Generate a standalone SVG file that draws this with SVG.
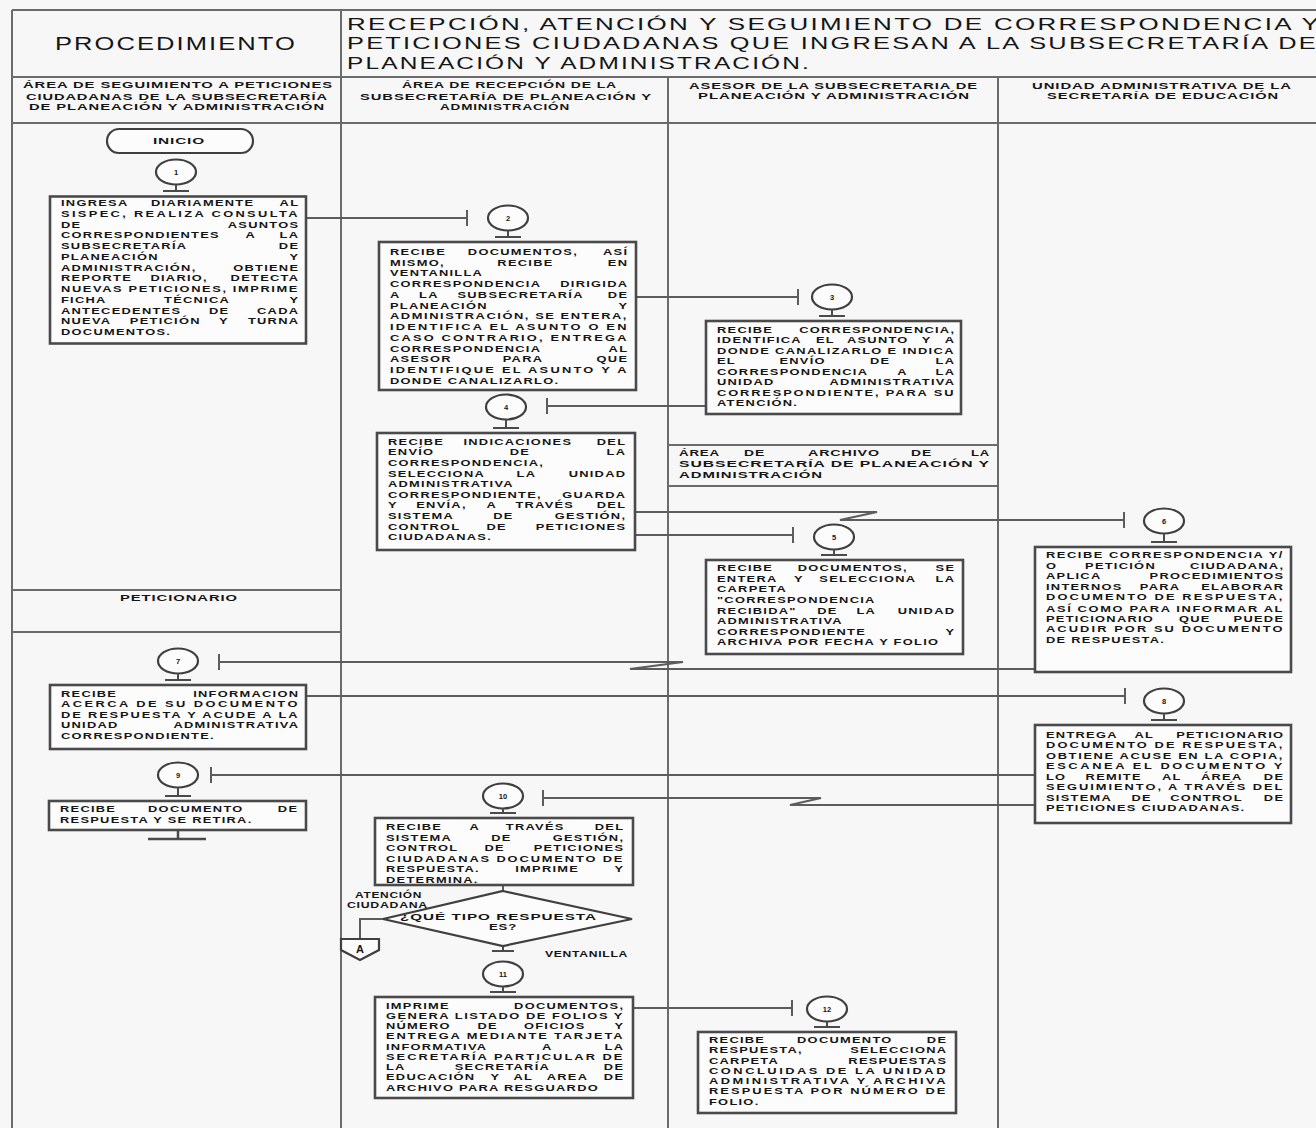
<svg xmlns="http://www.w3.org/2000/svg" width="1316" height="1128" viewBox="0 0 1316 1128">
<style>
.frame{fill:none;stroke:#6b6b6b;stroke-width:2}
.box{fill:#fcfcfc;stroke:#4a4a4a;stroke-width:2.6}
.cir{fill:#fcfcfc;stroke:#3f3f3f;stroke-width:2.2}
.stem{fill:none;stroke:#4a4a4a;stroke-width:2}
.con{fill:none;stroke:#5c5c5c;stroke-width:2}
text{font-family:"Liberation Sans",Arial,Helvetica,sans-serif;fill:#151515}
.bt text{font-size:9.2px;font-weight:bold;letter-spacing:0.9px}
.e{text-anchor:end}
.h{font-size:9.5px;font-weight:bold;letter-spacing:0.6px}
.t{font-size:17px;letter-spacing:1.5px}
.num{font-size:7.5px;font-weight:bold;text-anchor:middle}
.lbl{font-size:8.5px;font-weight:bold;letter-spacing:0.5px}
</style>
<rect x="0" y="0" width="1316" height="1128" fill="#f7f7f7"/>
<g id="frame">
<path class="frame" d="M12,10 H1316 M12,10 V1128 M341,10 V1128 M12,77 H1316 M12,123 H1316 M668,77 V1128 M998,77 V1128"/>
<rect class="frame" x="668" y="445" width="330" height="41" fill="#f9f9f9"/>
<rect class="frame" x="12" y="590" width="329" height="42" fill="#f9f9f9"/>
</g>
<g id="header">
<text class="t" x="55" y="50" textLength="242" lengthAdjust="spacingAndGlyphs" style="font-size:18.5px">PROCEDIMIENTO</text>
<text class="t" x="347" y="29.5" textLength="974" lengthAdjust="spacingAndGlyphs">RECEPCIÓN, ATENCIÓN Y SEGUIMIENTO DE CORRESPONDENCIA Y</text>
<text class="t" x="347" y="49" textLength="971" lengthAdjust="spacingAndGlyphs">PETICIONES CIUDADANAS QUE INGRESAN A LA SUBSECRETARÍA DE</text>
<text class="t" x="347" y="68.5" textLength="464" lengthAdjust="spacingAndGlyphs">PLANEACIÓN Y ADMINISTRACIÓN.</text>
</g>
<g id="lanes">
<text class="h" x="23" y="88" textLength="310" lengthAdjust="spacingAndGlyphs">ÁREA DE SEGUIMIENTO A PETICIONES</text>
<text class="h" x="26" y="99.5" textLength="302" lengthAdjust="spacingAndGlyphs">CIUDADANAS DE LA SUBSECRETARÍA</text>
<text class="h" x="29" y="110" textLength="296" lengthAdjust="spacingAndGlyphs">DE PLANEACIÓN Y ADMINISTRACIÓN</text>
<text class="h" x="402" y="88" textLength="215" lengthAdjust="spacingAndGlyphs">ÁREA DE RECEPCIÓN DE LA</text>
<text class="h" x="360" y="99.5" textLength="292" lengthAdjust="spacingAndGlyphs">SUBSECRETARÍA DE PLANEACIÓN Y</text>
<text class="h" x="440" y="110" textLength="130" lengthAdjust="spacingAndGlyphs">ADMINISTRACIÓN</text>
<text class="h" x="689" y="88.5" textLength="289" lengthAdjust="spacingAndGlyphs">ASESOR DE LA SUBSECRETARIA DE</text>
<text class="h" x="698" y="99" textLength="272" lengthAdjust="spacingAndGlyphs">PLANEACIÓN Y ADMINISTRACIÓN</text>
<text class="h" x="1032" y="88.5" textLength="260" lengthAdjust="spacingAndGlyphs">UNIDAD ADMINISTRATIVA DE LA</text>
<text class="h" x="1047" y="99" textLength="232" lengthAdjust="spacingAndGlyphs">SECRETARÍA DE EDUCACIÓN</text>
<text class="h" x="120" y="601" textLength="118" lengthAdjust="spacingAndGlyphs">PETICIONARIO</text>
<text class="h" x="679" y="456" textLength="41" lengthAdjust="spacingAndGlyphs">ÁREA</text>
<text class="h" x="744" y="456" textLength="21" lengthAdjust="spacingAndGlyphs">DE</text>
<text class="h" x="808" y="456" textLength="72" lengthAdjust="spacingAndGlyphs">ARCHIVO</text>
<text class="h" x="911" y="456" textLength="21" lengthAdjust="spacingAndGlyphs">DE</text>
<text class="h" x="971" y="456" textLength="19" lengthAdjust="spacingAndGlyphs">LA</text>
<text class="h" x="679" y="466.5" textLength="311" lengthAdjust="spacingAndGlyphs">SUBSECRETARÍA DE PLANEACIÓN Y</text>
<text class="h" x="679" y="477.5" textLength="144" lengthAdjust="spacingAndGlyphs">ADMINISTRACIÓN</text>
</g>
<g id="connectors">
<path class="con" d="M306,218 H467 M467,210 V226"/>
<path class="con" d="M636,297 H798 M798,289 V305"/>
<path class="con" d="M706,406 H547 M547,398 V414"/>
<path class="con" d="M635,512 H877 L840,520 H1124 M1124,512 V528"/>
<path class="con" d="M635,535 H793 M793,527 V543"/>
<path class="con" d="M1035,669 H630 L683,662 H219 M219,654 V670"/>
<path class="con" d="M306,696 H1125 M1125,688 V704"/>
<path class="con" d="M1035,775 H211 M211,767 V783"/>
<path class="con" d="M1035,805 H790 L821,798 H543 M543,790 V806"/>
<path class="con" d="M633,1008 H792 M792,1000 V1016"/>
<path class="con" d="M503,885 V891"/>
<path class="con" d="M383,919 H360 V939"/>
<path class="stem" d="M503,946 V951 M492,951 H514"/>
</g>
<g id="inicio">
<rect class="cir" x="107" y="129" width="146" height="24" rx="12"/>
<text class="lbl" x="153" y="143.5" textLength="52" lengthAdjust="spacingAndGlyphs" style="font-size:9.5px">INICIO</text>
</g>
<g id="step1">
<ellipse class="cir" cx="176" cy="172" rx="20" ry="12.5"/><text class="num" x="176" y="174.6">1</text>
<path class="stem" d="M176,184.5 V191 M163,191 H189"/>
<rect class="box" x="50" y="196.5" width="256" height="147"/>
<g class="bt" transform="translate(61,0) scale(1.4,1)">
<text y="206"><tspan x="0">INGRESA</tspan><tspan x="64.3">DIARIAMENTE</tspan></text><text class="e" x="170.2" y="206">AL</text>
<text x="0" y="217" textLength="169.8" lengthAdjust="spacing">SISPEC, REALIZA CONSULTA</text>
<text x="0" y="228">DE</text><text class="e" x="170.2" y="228">ASUNTOS</text>
<text y="238.5"><tspan x="0">CORRESPONDIENTES</tspan><tspan x="131.7">A</tspan></text><text class="e" x="170.2" y="238.5">LA</text>
<text x="0" y="249">SUBSECRETARÍA</text><text class="e" x="170.2" y="249">DE</text>
<text x="0" y="260">PLANEACIÓN</text><text class="e" x="170.2" y="260">Y</text>
<text x="0" y="271">ADMINISTRACIÓN,</text><text class="e" x="170.2" y="271">OBTIENE</text>
<text y="281.5"><tspan x="0">REPORTE</tspan><tspan x="63.9">DIARIO,</tspan></text><text class="e" x="170.2" y="281.5">DETECTA</text>
<text x="0" y="292" textLength="169.8" lengthAdjust="spacing">NUEVAS PETICIONES, IMPRIME</text>
<text y="303"><tspan x="0">FICHA</tspan><tspan x="73.6">TÉCNICA</tspan></text><text class="e" x="170.2" y="303">Y</text>
<text y="314"><tspan x="0">ANTECEDENTES</tspan><tspan x="105.7">DE</tspan></text><text class="e" x="170.2" y="314">CADA</text>
<text y="324.5"><tspan x="0">NUEVA</tspan><tspan x="49.2">PETICIÓN</tspan><tspan x="112.9">Y</tspan></text><text class="e" x="170.2" y="324.5">TURNA</text>
<text x="0" y="335">DOCUMENTOS.</text>
</g>
</g>
<g id="step2">
<ellipse class="cir" cx="508" cy="218" rx="20" ry="12.5"/><text class="num" x="508" y="220.6">2</text>
<path class="stem" d="M508,230.5 V237 M495,237 H521"/>
<rect class="box" x="379" y="242" width="257" height="148"/>
<g class="bt" transform="translate(390,0) scale(1.4,1)">
<text y="255"><tspan x="0">RECIBE</tspan><tspan x="55.6">DOCUMENTOS,</tspan></text><text class="e" x="170.2" y="255">ASÍ</text>
<text y="266"><tspan x="0">MISMO,</tspan><tspan x="76.7">RECIBE</tspan></text><text class="e" x="170.2" y="266">EN</text>
<text x="0" y="276.5">VENTANILLA</text>
<text x="0" y="287.5">CORRESPONDENCIA</text><text class="e" x="170.2" y="287.5">DIRIGIDA</text>
<text y="298"><tspan x="0">A</tspan><tspan x="20.8">LA</tspan><tspan x="48.2">SUBSECRETARÍA</tspan></text><text class="e" x="170.2" y="298">DE</text>
<text x="0" y="309">PLANEACIÓN</text><text class="e" x="170.2" y="309">Y</text>
<text x="0" y="319.5" textLength="169.8" lengthAdjust="spacing">ADMINISTRACIÓN, SE ENTERA,</text>
<text x="0" y="330.5" textLength="169.8" lengthAdjust="spacing">IDENTIFICA EL ASUNTO O EN</text>
<text x="0" y="341" textLength="169.8" lengthAdjust="spacing">CASO CONTRARIO, ENTREGA</text>
<text x="0" y="352">CORRESPONDENCIA</text><text class="e" x="170.2" y="352">AL</text>
<text y="362.5"><tspan x="0">ASESOR</tspan><tspan x="80.5">PARA</tspan></text><text class="e" x="170.2" y="362.5">QUE</text>
<text x="0" y="373.5" textLength="169.8" lengthAdjust="spacing">IDENTIFIQUE EL ASUNTO Y A</text>
<text x="0" y="384">DONDE CANALIZARLO.</text>
</g>
</g>
<g id="step3">
<ellipse class="cir" cx="832" cy="297" rx="20" ry="12.5"/><text class="num" x="832" y="299.6">3</text>
<path class="stem" d="M832,309.5 V316 M819,316 H845"/>
<rect class="box" x="706" y="321" width="255" height="93"/>
<g class="bt" transform="translate(717,0) scale(1.4,1)">
<text x="0" y="333">RECIBE</text><text class="e" x="170.2" y="333">CORRESPONDENCIA,</text>
<text y="343.5"><tspan x="0">IDENTIFICA</tspan><tspan x="70.7">EL</tspan><tspan x="92.8">ASUNTO</tspan><tspan x="146.2">Y</tspan></text><text class="e" x="170.2" y="343.5">A</text>
<text x="0" y="354" textLength="169.8" lengthAdjust="spacing">DONDE CANALIZARLO E INDICA</text>
<text y="364.5"><tspan x="0">EL</tspan><tspan x="44.6">ENVÍO</tspan><tspan x="109.3">DE</tspan></text><text class="e" x="170.2" y="364.5">LA</text>
<text y="375"><tspan x="0">CORRESPONDENCIA</tspan><tspan x="128.8">A</tspan></text><text class="e" x="170.2" y="375">LA</text>
<text x="0" y="385.5">UNIDAD</text><text class="e" x="170.2" y="385.5">ADMINISTRATIVA</text>
<text x="0" y="396" textLength="169.8" lengthAdjust="spacing">CORRESPONDIENTE, PARA SU</text>
<text x="0" y="406.5">ATENCIÓN.</text>
</g>
</g>
<g id="step4">
<ellipse class="cir" cx="506" cy="407" rx="20" ry="12.5"/><text class="num" x="506" y="409.6">4</text>
<path class="stem" d="M506,419.5 V428 M493,428 H519"/>
<rect class="box" x="377" y="433" width="258" height="117"/>
<g class="bt" transform="translate(388,0) scale(1.4,1)">
<text y="445"><tspan x="0">RECIBE</tspan><tspan x="53.9">INDICACIONES</tspan></text><text class="e" x="170.2" y="445">DEL</text>
<text y="455.5"><tspan x="0">ENVÍO</tspan><tspan x="87">DE</tspan></text><text class="e" x="170.2" y="455.5">LA</text>
<text x="0" y="466">CORRESPONDENCIA,</text>
<text y="477"><tspan x="0">SELECCIONA</tspan><tspan x="91.8">LA</tspan></text><text class="e" x="170.2" y="477">UNIDAD</text>
<text x="0" y="487.5">ADMINISTRATIVA</text>
<text x="0" y="498">CORRESPONDIENTE,</text><text class="e" x="170.2" y="498">GUARDA</text>
<text y="508.5"><tspan x="0">Y</tspan><tspan x="20.2">ENVÍA,</tspan><tspan x="70.3">A</tspan><tspan x="91">TRAVÉS</tspan></text><text class="e" x="170.2" y="508.5">DEL</text>
<text y="519"><tspan x="0">SISTEMA</tspan><tspan x="75.1">DE</tspan></text><text class="e" x="170.2" y="519">GESTIÓN,</text>
<text y="530"><tspan x="0">CONTROL</tspan><tspan x="70.4">DE</tspan></text><text class="e" x="170.2" y="530">PETICIONES</text>
<text x="0" y="540.5">CIUDADANAS.</text>
</g>
</g>
<g id="step5">
<ellipse class="cir" cx="834" cy="537" rx="20" ry="12.5"/><text class="num" x="834" y="539.6">5</text>
<path class="stem" d="M834,549.5 V555 M821,555 H847"/>
<rect class="box" x="706" y="560" width="257" height="94"/>
<g class="bt" transform="translate(717,0) scale(1.4,1)">
<text y="571.5"><tspan x="0">RECIBE</tspan><tspan x="57.7">DOCUMENTOS,</tspan></text><text class="e" x="170.2" y="571.5">SE</text>
<text y="582"><tspan x="0">ENTERA</tspan><tspan x="55">Y</tspan><tspan x="73.1">SELECCIONA</tspan></text><text class="e" x="170.2" y="582">LA</text>
<text x="0" y="592.5">CARPETA</text>
<text x="0" y="603">"CORRESPONDENCIA</text>
<text y="614"><tspan x="0">RECIBIDA"</tspan><tspan x="71.6">DE</tspan><tspan x="99.6">LA</tspan></text><text class="e" x="170.2" y="614">UNIDAD</text>
<text x="0" y="624.5">ADMINISTRATIVA</text>
<text x="0" y="635">CORRESPONDIENTE</text><text class="e" x="170.2" y="635">Y</text>
<text x="0" y="645.5">ARCHIVA POR FECHA Y FOLIO</text>
</g>
</g>
<g id="step6">
<ellipse class="cir" cx="1164" cy="521" rx="20" ry="12.5"/><text class="num" x="1164" y="523.6">6</text>
<path class="stem" d="M1164,533.5 V542 M1151,542 H1177"/>
<rect class="box" x="1035" y="547" width="256" height="125"/>
<g class="bt" transform="translate(1046,0) scale(1.4,1)">
<text x="0" y="558" textLength="169.8" lengthAdjust="spacing">RECIBE CORRESPONDENCIA Y/</text>
<text y="569"><tspan x="0">O</tspan><tspan x="27.9">PETICIÓN</tspan></text><text class="e" x="170.2" y="569">CIUDADANA,</text>
<text x="0" y="579.5">APLICA</text><text class="e" x="170.2" y="579.5">PROCEDIMIENTOS</text>
<text y="590"><tspan x="0">INTERNOS</tspan><tspan x="67">PARA</tspan></text><text class="e" x="170.2" y="590">ELABORAR</text>
<text x="0" y="600.5" textLength="169.8" lengthAdjust="spacing">DOCUMENTO DE RESPUESTA,</text>
<text x="0" y="611.5" textLength="169.8" lengthAdjust="spacing">ASÍ COMO PARA INFORMAR AL</text>
<text y="622"><tspan x="0">PETICIONARIO</tspan><tspan x="95">QUE</tspan></text><text class="e" x="170.2" y="622">PUEDE</text>
<text x="0" y="632.5" textLength="169.8" lengthAdjust="spacing">ACUDIR POR SU DOCUMENTO</text>
<text x="0" y="643">DE RESPUESTA.</text>
</g>
</g>
<g id="step7">
<ellipse class="cir" cx="178" cy="661" rx="20" ry="12.5"/><text class="num" x="178" y="663.6">7</text>
<path class="stem" d="M178,673.5 V680 M165,680 H191"/>
<rect class="box" x="50" y="685" width="256" height="64"/>
<g class="bt" transform="translate(61,0) scale(1.4,1)">
<text x="0" y="697">RECIBE</text><text class="e" x="170.2" y="697">INFORMACION</text>
<text x="0" y="707.5" textLength="169.8" lengthAdjust="spacing">ACERCA DE SU DOCUMENTO</text>
<text x="0" y="718" textLength="169.8" lengthAdjust="spacing">DE RESPUESTA Y ACUDE A LA</text>
<text x="0" y="728.5">UNIDAD</text><text class="e" x="170.2" y="728.5">ADMINISTRATIVA</text>
<text x="0" y="739">CORRESPONDIENTE.</text>
</g>
</g>
<g id="step8">
<ellipse class="cir" cx="1164" cy="701" rx="20" ry="12.5"/><text class="num" x="1164" y="703.6">8</text>
<path class="stem" d="M1164,713.5 V720 M1151,720 H1177"/>
<rect class="box" x="1035" y="725" width="256" height="98"/>
<g class="bt" transform="translate(1046,0) scale(1.4,1)">
<text y="738"><tspan x="0">ENTREGA</tspan><tspan x="63.2">AL</tspan></text><text class="e" x="170.2" y="738">PETICIONARIO</text>
<text x="0" y="748.5" textLength="169.8" lengthAdjust="spacing">DOCUMENTO DE RESPUESTA,</text>
<text x="0" y="759" textLength="169.8" lengthAdjust="spacing">OBTIENE ACUSE EN LA COPIA,</text>
<text x="0" y="769.5" textLength="169.8" lengthAdjust="spacing">ESCANEA EL DOCUMENTO Y</text>
<text y="780"><tspan x="0">LO</tspan><tspan x="28.3">REMITE</tspan><tspan x="82.9">AL</tspan><tspan x="110.7">ÁREA</tspan></text><text class="e" x="170.2" y="780">DE</text>
<text x="0" y="790.5" textLength="169.8" lengthAdjust="spacing">SEGUIMIENTO, A TRAVÉS DEL</text>
<text y="801"><tspan x="0">SISTEMA</tspan><tspan x="61.1">DE</tspan><tspan x="88.8">CONTROL</tspan></text><text class="e" x="170.2" y="801">DE</text>
<text x="0" y="811.5">PETICIONES CIUDADANAS.</text>
</g>
</g>
<g id="step9">
<ellipse class="cir" cx="178" cy="775" rx="20" ry="12.5"/><text class="num" x="178" y="777.6">9</text>
<path class="stem" d="M178,787.5 V796 M165,796 H191"/>
<rect class="box" x="49" y="801" width="257" height="29"/>
<g class="bt" transform="translate(60,0) scale(1.4,1)">
<text y="812.5"><tspan x="0">RECIBE</tspan><tspan x="62.9">DOCUMENTO</tspan></text><text class="e" x="170.2" y="812.5">DE</text>
<text x="0" y="823">RESPUESTA Y SE RETIRA.</text>
</g>
<path class="stem" d="M178,830 V839 M148,839 H206" style="stroke-width:2.5"/>
</g>
<g id="step10">
<ellipse class="cir" cx="503" cy="796" rx="20" ry="12.5"/><text class="num" x="503" y="798.6">10</text>
<path class="stem" d="M503,808.5 V813 M490,813 H516"/>
<rect class="box" x="375" y="818" width="258" height="67"/>
<g class="bt" transform="translate(386,0) scale(1.4,1)">
<text y="830.5"><tspan x="0">RECIBE</tspan><tspan x="59.6">A</tspan><tspan x="85.6">TRAVÉS</tspan></text><text class="e" x="170.2" y="830.5">DEL</text>
<text y="841"><tspan x="0">SISTEMA</tspan><tspan x="75.1">DE</tspan></text><text class="e" x="170.2" y="841">GESTIÓN,</text>
<text y="851.5"><tspan x="0">CONTROL</tspan><tspan x="70.4">DE</tspan></text><text class="e" x="170.2" y="851.5">PETICIONES</text>
<text x="0" y="862" textLength="169.8" lengthAdjust="spacing">CIUDADANAS DOCUMENTO DE</text>
<text y="872.5"><tspan x="0">RESPUESTA.</tspan><tspan x="92.3">IMPRIME</tspan></text><text class="e" x="170.2" y="872.5">Y</text>
<text x="0" y="883">DETERMINA.</text>
</g>
</g>
<g id="decision">
<polygon class="cir" points="503,891 632,919 503,946 383,919"/>
<text class="h" x="400" y="919.5" textLength="197" lengthAdjust="spacingAndGlyphs">¿QUÉ TIPO RESPUESTA</text>
<text class="h" x="489" y="930" textLength="28" lengthAdjust="spacingAndGlyphs">ES?</text>
<text class="lbl" x="355" y="898" textLength="67" lengthAdjust="spacingAndGlyphs">ATENCIÓN</text>
<text class="lbl" x="347" y="907.5" textLength="81" lengthAdjust="spacingAndGlyphs">CIUDADANA</text>
<text class="lbl" x="545" y="956.5" textLength="83" lengthAdjust="spacingAndGlyphs">VENTANILLA</text>
</g>
<g id="connectorA">
<path class="cir" d="M341,939 H379 V950 L360,960 L341,950 Z"/>
<text x="360" y="953" style="font-size:11px;font-weight:bold;text-anchor:middle">A</text>
</g>
<g id="step11">
<ellipse class="cir" cx="503" cy="974" rx="20" ry="12.5"/><text class="num" x="503" y="976.6">11</text>
<path class="stem" d="M503,986.5 V992 M490,992 H516"/>
<rect class="box" x="375" y="997" width="258" height="101"/>
<g class="bt" transform="translate(386,0) scale(1.4,1)">
<text x="0" y="1009">IMPRIME</text><text class="e" x="170.2" y="1009">DOCUMENTOS,</text>
<text x="0" y="1019" textLength="169.8" lengthAdjust="spacing">GENERA LISTADO DE FOLIOS Y</text>
<text y="1029.5"><tspan x="0">NÚMERO</tspan><tspan x="65.4">DE</tspan><tspan x="98.5">OFICIOS</tspan></text><text class="e" x="170.2" y="1029.5">Y</text>
<text x="0" y="1039.5" textLength="169.8" lengthAdjust="spacing">ENTREGA MEDIANTE TARJETA</text>
<text y="1050"><tspan x="0">INFORMATIVA</tspan><tspan x="111.4">A</tspan></text><text class="e" x="170.2" y="1050">LA</text>
<text x="0" y="1060" textLength="169.8" lengthAdjust="spacing">SECRETARÍA PARTICULAR DE</text>
<text y="1070.5"><tspan x="0">LA</tspan><tspan x="49.1">SECRETARÍA</tspan></text><text class="e" x="170.2" y="1070.5">DE</text>
<text y="1080.5"><tspan x="0">EDUCACIÓN</tspan><tspan x="74.6">Y</tspan><tspan x="91.1">AL</tspan><tspan x="114.8">AREA</tspan></text><text class="e" x="170.2" y="1080.5">DE</text>
<text x="0" y="1091">ARCHIVO PARA RESGUARDO</text>
</g>
</g>
<g id="step12">
<ellipse class="cir" cx="827" cy="1009" rx="20" ry="12.5"/><text class="num" x="827" y="1011.6">12</text>
<path class="stem" d="M827,1021.5 V1027 M814,1027 H840"/>
<rect class="box" x="698" y="1032" width="258" height="81"/>
<g class="bt" transform="translate(709,0) scale(1.4,1)">
<text y="1043"><tspan x="0">RECIBE</tspan><tspan x="62.9">DOCUMENTO</tspan></text><text class="e" x="170.2" y="1043">DE</text>
<text x="0" y="1053.5">RESPUESTA,</text><text class="e" x="170.2" y="1053.5">SELECCIONA</text>
<text x="0" y="1064">CARPETA</text><text class="e" x="170.2" y="1064">RESPUESTAS</text>
<text x="0" y="1074" textLength="169.8" lengthAdjust="spacing">CONCLUIDAS DE LA UNIDAD</text>
<text x="0" y="1084.5" textLength="169.8" lengthAdjust="spacing">ADMINISTRATIVA Y ARCHIVA</text>
<text x="0" y="1094.5" textLength="169.8" lengthAdjust="spacing">RESPUESTA POR NÚMERO DE</text>
<text x="0" y="1105">FOLIO.</text>
</g>
</g>
</svg>
